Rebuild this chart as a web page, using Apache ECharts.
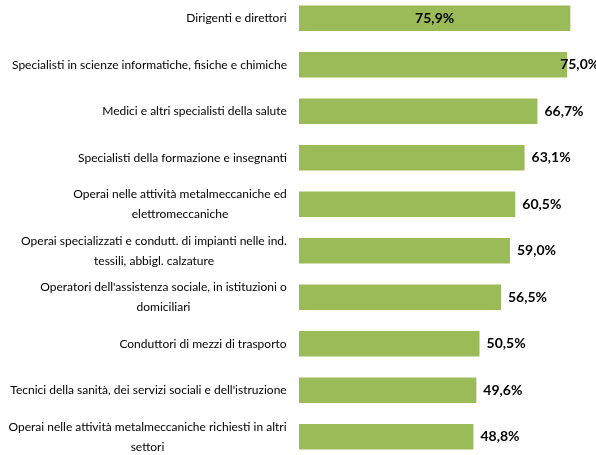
<!DOCTYPE html>
<html>
<head>
<meta charset="utf-8">
<script src="https://cdn.jsdelivr.net/npm/echarts@6/dist/echarts.min.js"></script>
<style>
  html, body { margin: 0; padding: 0; background: #fff; }
  #chart { width: 596px; height: 455px; }
</style>
</head>
<body>
<div id="chart"></div>
<script>
// ---- data ----
const categories = [
  'Dirigenti e direttori',
  'Specialisti in scienze informatiche, fisiche e chimiche',
  'Medici e altri specialisti della salute',
  'Specialisti della formazione e insegnanti',
  'Operai nelle attività metalmeccaniche ed\nelettromeccaniche',
  'Operai specializzati e condutt. di impianti nelle ind.\ntessili, abbigl. calzature',
  "Operatori dell'assistenza sociale, in istituzioni o\ndomiciliari",
  'Conduttori di mezzi di trasporto',
  "Tecnici della sanità, dei servizi sociali e dell'istruzione",
  'Operai nelle attività metalmeccaniche richiesti in altri\nsettori',
];
const values = [75.9, 75.0, 66.7, 63.1, 60.5, 59.0, 56.5, 50.5, 49.6, 48.8];

const FONT = 'Lato, "Liberation Sans", sans-serif';
const LABEL_SIZE = 12;

// ---- label wrapping: lines centred to each other, block right-aligned ----
const ctx = document.createElement('canvas').getContext('2d');
ctx.font = LABEL_SIZE + 'px ' + FONT;
const rich = {};
categories.forEach((c, i) => {
  const w = Math.max(...c.split('\n').map(l => ctx.measureText(l).width));
  rich['c' + i] = { width: Math.ceil(w), align: 'center', lineHeight: 20,
    fontSize: LABEL_SIZE, fontFamily: FONT, color: '#000' };
});

function fmtPct(v) {
  return v.toFixed(1).replace('.', ',') + '%';
}

const data = values.map((v, i) => {
  const item = { value: v };
  if (i === 0) item.label = { position: 'inside' };
  if (i === 1) item.label = { offset: [-14, 0] };
  return item;
});

const chart = echarts.init(document.getElementById('chart'));
chart.setOption({
  backgroundColor: '#fff',
  animation: false,
  grid: { left: 299, right: 11, top: -5, height: 465, containLabel: false, outerBoundsMode: 'none' },
  xAxis: {
    type: 'value', min: 0, max: 80, show: false,
  },
  yAxis: {
    type: 'category',
    inverse: true,
    data: categories,
    axisLine: { show: false },
    axisTick: { show: false },
    axisLabel: {
      margin: 12,
      formatter: (val, i) => val.split('\n').map(l => '{c' + i + '|' + l + '}').join('\n'),
      rich: rich,
    },
  },
  series: [{
    type: 'bar',
    data: data,
    barCategoryGap: '45%',
    itemStyle: { color: '#9BBB59' },
    label: {
      show: true,
      position: 'right',
      distance: 7,
      formatter: (p) => fmtPct(p.value),
      fontFamily: FONT,
      fontSize: 14,
      fontWeight: 'bold',
      color: '#000',
    },
  }],
});
</script>
</body>
</html>
